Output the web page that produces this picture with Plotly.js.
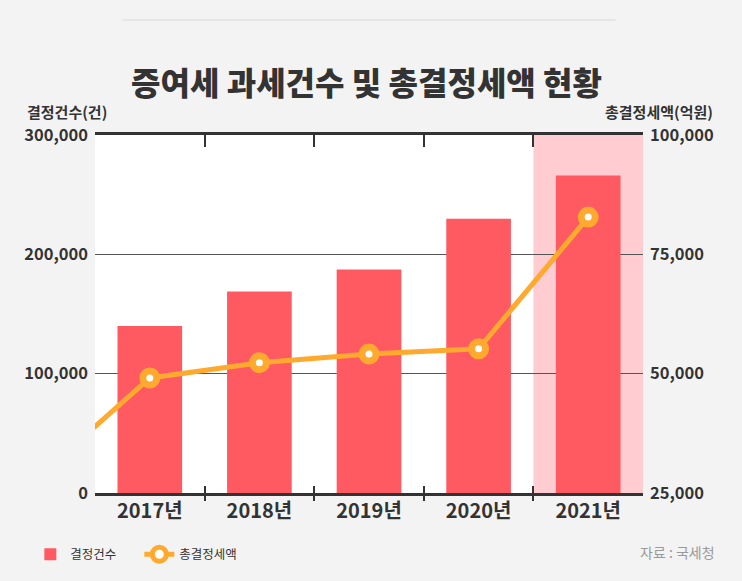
<!DOCTYPE html>
<html>
<head>
<meta charset="utf-8">
<script src="https://cdn.plot.ly/plotly-3.0.1.min.js"></script>
<style>
  html, body { margin: 0; padding: 0; background: #f3f3f3; }
  #chart { width: 742px; height: 581px; }
</style>
</head>
<body>
<div id="chart"></div>
<script>
// ---- data ----
const years = [2016, 2017, 2018, 2019, 2020, 2021];
const yearLabels = ['2016년', '2017년', '2018년', '2019년', '2020년', '2021년'];
const caseCounts = [null, 140000, 168900, 187300, 229800, 266100];   // 결정건수(건)
const taxAmounts = [28700, 49100, 52300, 54100, 55200, 82800];      // 총결정세액(억원)
const highlightYear = 2021;
const leftTicks = [0, 100000, 200000, 300000];
const rightTicks = [25000, 50000, 75000, 100000];

// ---- derived ----
const shownYears = years.slice(1);
const shownLabels = yearLabels.slice(1);
const xRange = [shownYears[0] - 0.5, shownYears[shownYears.length - 1] + 0.5];
const boundaries = shownYears.slice(0, -1).map(v => v + 0.5);

const FONT = '"Noto Sans CJK KR", "Noto Sans", sans-serif';
const DARK = '#333333';
const RED = '#FF5A62';
const ORANGE = '#FFAA2E';
const PINK = '#FFCDD1';

const traces = [
  {
    type: 'bar', name: '결정건수', x: years, y: caseCounts,
    xaxis: 'x', yaxis: 'y', width: 0.59,
    marker: { color: RED, line: { width: 0 } },
    hoverinfo: 'skip'
  },
  {
    type: 'scatter', mode: 'lines+markers', name: '총결정세액', x: years, y: taxAmounts,
    xaxis: 'x', yaxis: 'y2',
    line: { color: ORANGE, width: 5 },
    marker: { size: 14, color: '#ffffff', line: { color: ORANGE, width: 7 } },
    cliponaxis: true, hoverinfo: 'skip'
  },
  { type: 'scatter', x: [], y: [], xaxis: 'x2', yaxis: 'y', showlegend: false, hoverinfo: 'skip' },
  { type: 'scatter', x: [], y: [], xaxis: 'x3', yaxis: 'y', showlegend: false, hoverinfo: 'skip' },
  { type: 'scatter', x: [], y: [], xaxis: 'x4', yaxis: 'y', showlegend: false, hoverinfo: 'skip' }
];

const tickAxisBase = {
  overlaying: 'x', anchor: 'y', range: xRange, type: 'linear',
  tickmode: 'array', tickvals: boundaries, showticklabels: false,
  showgrid: false, zeroline: false, tickcolor: DARK, tickwidth: 2
};

const layout = {
  width: 742, height: 581,
  margin: { l: 95, r: 99, t: 135, b: 86 },
  paper_bgcolor: '#f3f3f3',
  plot_bgcolor: '#ffffff',
  font: { family: FONT, color: DARK },
  title: {
    text: '증여세 과세건수 및 총결정세액 현황',
    font: { family: FONT, size: 32, weight: 900, color: DARK },
    xref: 'container', x: 0.494, xanchor: 'center',
    yref: 'container', y: 0.855, yanchor: 'middle'
  },
  xaxis: {
    type: 'linear', range: xRange, tickmode: 'array',
    tickvals: shownYears, ticktext: shownLabels,
    ticks: '', showgrid: false, zeroline: false,
    showline: true, linecolor: DARK, linewidth: 3,
    tickfont: { family: FONT, size: 20, weight: 700, color: DARK },
    ticklabelstandoff: -2
  },
  xaxis2: Object.assign({}, tickAxisBase, { side: 'bottom', ticks: 'outside', ticklen: 7, showline: false }),
  xaxis3: Object.assign({}, tickAxisBase, { side: 'bottom', ticks: 'inside', ticklen: 7, showline: false }),
  xaxis4: Object.assign({}, tickAxisBase, { side: 'top', ticks: 'inside', ticklen: 12,
    showline: true, linecolor: DARK, linewidth: 3 }),
  yaxis: {
    range: [leftTicks[0], leftTicks[leftTicks.length - 1]],
    tickmode: 'array', tickvals: leftTicks, tickformat: ',',
    showgrid: true, gridcolor: '#555555', gridwidth: 1,
    zeroline: false, showline: false, ticks: '',
    tickfont: { family: FONT, size: 16.5, weight: 700, color: DARK },
    ticklabelstandoff: 6
  },
  yaxis2: {
    overlaying: 'y', side: 'right', anchor: 'x',
    range: [rightTicks[0], rightTicks[rightTicks.length - 1]],
    tickmode: 'array', tickvals: rightTicks, tickformat: ',',
    showgrid: false, zeroline: false, showline: false, ticks: '',
    tickfont: { family: FONT, size: 16.5, weight: 700, color: DARK },
    ticklabelstandoff: 6
  },
  showlegend: true,
  legend: {
    orientation: 'h', x: -0.118, xanchor: 'left', y: -0.172, yanchor: 'middle',
    font: { family: FONT, size: 12.5, color: DARK },
    bgcolor: 'rgba(0,0,0,0)', itemwidth: 30, traceorder: 'normal',
    entrywidth: 64
  },
  shapes: [
    {
      type: 'rect', layer: 'below', xref: 'x', yref: 'paper',
      x0: highlightYear - 0.5, x1: highlightYear + 0.5, y0: 0, y1: 1,
      fillcolor: PINK, line: { width: 0 }
    },
    {
      type: 'line', layer: 'below', xref: 'paper', yref: 'paper',
      x0: 0.05, x1: 0.95, y0: 1.321, y1: 1.321,
      line: { color: 'rgba(0,0,0,0.07)', width: 1.5 }
    }
  ],
  annotations: [
    {
      text: '결정건수(건)', xref: 'paper', yref: 'paper',
      x: -0.128, xanchor: 'left', y: 1.0667, yanchor: 'middle', showarrow: false,
      font: { family: FONT, size: 15, weight: 700, color: DARK }
    },
    {
      text: '총결정세액(억원)', xref: 'paper', yref: 'paper',
      x: 1.132, xanchor: 'right', y: 1.0667, yanchor: 'middle', showarrow: false,
      font: { family: FONT, size: 15, weight: 700, color: DARK }
    },
    {
      text: '자료 : 국세청', xref: 'paper', yref: 'paper',
      x: 1.135, xanchor: 'right', y: -0.164, yanchor: 'middle', showarrow: false,
      font: { family: FONT, size: 14, weight: 400, color: '#9a9a9a' }
    }
  ]
};

Plotly.newPlot('chart', traces, layout, { staticPlot: true, displayModeBar: false });
</script>
</body>
</html>
